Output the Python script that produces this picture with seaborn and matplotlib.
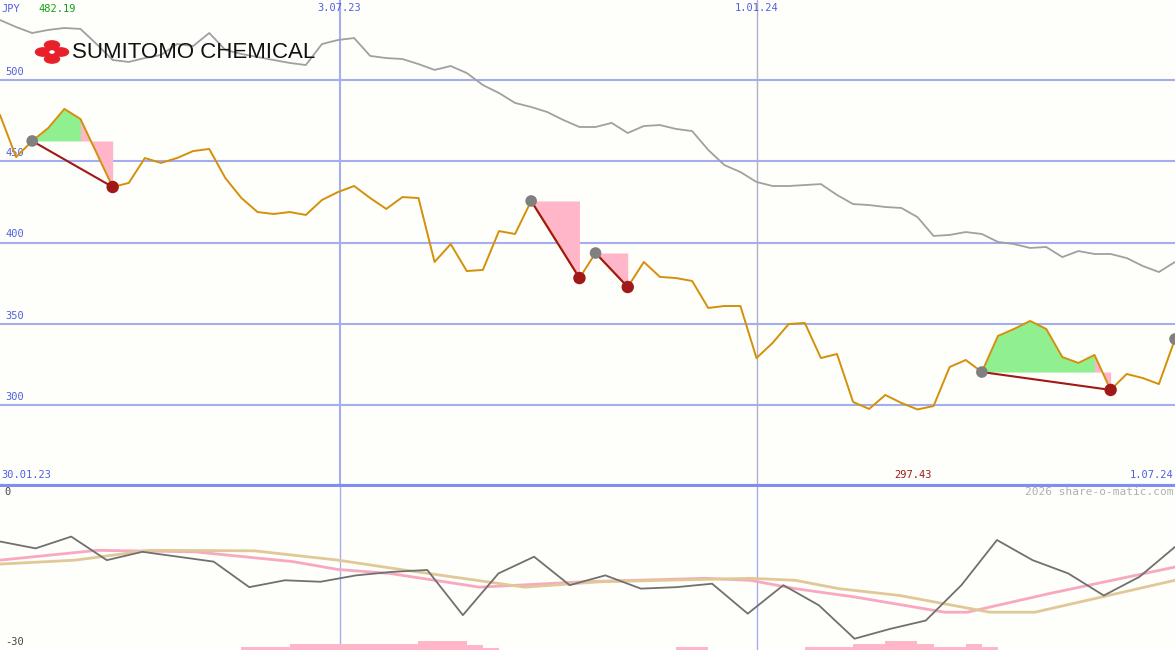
import matplotlib
matplotlib.use("Agg")
import matplotlib.pyplot as plt
import seaborn as sns
import numpy as np
import pandas as pd
from matplotlib.patches import Circle

sns.set_theme(style="white")
plt.rcParams['font.family'] = ['DejaVu Sans Mono', 'DejaVu Sans']

price = [478.5,452.6,462.5,470.5,482.2,476.0,455.1,434.2,436.7,452.0,449.0,452.0,456.3,457.6,439.7,427.4,418.8,417.6,418.8,417.0,
         426.2,431.1,434.8,427.4,420.7,428.0,427.4,388.1,399.1,382.5,383.2,407.1,405.3,425.6,410.2,394.2,378.2,393.6,383.2,372.7,
         388.1,378.9,378.2,376.4,359.8,361.0,361.0,329.0,338.3,349.9,350.6,329.0,331.5,302.0,297.7,306.3,301.4,297.4,299.5,323.5,
         327.8,320.4,342.6,346.9,351.8,346.9,329.6,326.0,330.9,309.4,319.2,316.7,313.0,340.7]
bench = [536.9,532.6,528.9,530.8,532.0,531.4,522.1,512.3,511.1,513.5,515.4,522.1,520.9,528.9,518.5,516.0,514.1,512.3,510.5,509.2,
         522.1,524.6,525.8,514.8,513.5,512.9,509.8,506.2,508.6,504.3,496.9,492.0,485.9,483.4,480.3,475.4,471.1,471.1,473.6,467.4,
         471.7,472.3,469.9,468.6,457.0,447.7,443.4,437.3,434.8,434.8,435.4,436.0,429.3,423.7,423.1,421.9,421.3,415.7,404.1,404.7,
         406.5,405.3,400.4,399.1,396.7,397.3,391.1,394.8,393.0,393.0,390.5,385.6,381.9,388.1]
osc = [-9.5,-10.9,-8.5,-13.3,-11.6,-12.6,-13.6,-18.8,-17.4,-17.7,-16.4,-15.7,-15.3,-24.5,-16.0,-12.6,-18.4,
       -16.4,-19.1,-18.8,-18.1,-24.2,-18.4,-22.5,-29.3,-27.3,-25.6,-18.4,-9.2,-13.3,-16.0,-20.5,-16.7,-10.6]
ma1_x = [0,6.05,12.1,18.2,21.0,24.2,29.8,36.3,43.8,46.6,49.4,53.1,58.7,60.1,65.2,73]
ma1 = [-13.3,-11.3,-11.6,-13.6,-15.2,-16.0,-18.8,-17.7,-17.0,-17.4,-19.1,-20.8,-23.9,-23.9,-20.1,-14.7]
ma2_x = [0,4.66,9.31,15.8,21.0,25.1,32.6,37.3,46.6,49.4,52.1,55.9,61.5,64.3,73]
ma2 = [-14.1,-13.3,-11.3,-11.4,-13.3,-15.3,-18.8,-17.7,-17.0,-17.4,-19.1,-20.5,-23.9,-23.9,-17.4]
vol_weeks = [15,16,17,18,19,20,21,22,23,24,25,26,27,28,29,30,42,43,50,51,52,53,54,55,56,57,58,59,60,61]
vol_vals = [0.6,0.6,0.6,1.2,1.2,1.2,1.2,1.2,1.2,1.2,1.2,1.9,1.9,1.9,1.0,0.5,0.6,0.6,0.6,0.6,0.6,1.2,1.2,1.9,1.9,1.2,0.6,0.6,1.2,0.6]
signals = [(2,7,5),(33,36,33),(37,39,37),(61,69,68)]
extra_dot = 73
yticks = [300,350,400,450,500]
date_ticks = {21.1: "3.07.23", 47: "1.01.24"}
hi_label, lo_label = "482.19", "297.43"

BG = '#fefefa'
BLUE = '#a3adf0'
fig = plt.figure(figsize=(11.75, 6.5), dpi=100, facecolor=BG)
ax = fig.add_axes([0, 163/650, 1, 487/650], facecolor=BG)
bx = fig.add_axes([0, 0, 1, 163/650], facecolor=BG)
x = np.arange(len(price))
ax.set_xlim(0, 73); bx.set_xlim(0, 73)
ax.set_ylim(249.7, 549.2)
bx.set_ylim(-31.6, 1.6)

for v in yticks:
    ax.axhline(v, color=BLUE, lw=1.5, zorder=1)
    ax.text(0.35, v + 2, str(v), color='#5060e0', fontsize=7.5, va='bottom')
ax.axvline(21.1, color=BLUE, lw=1.5, zorder=1)
ax.axvline(47, color='#b0b0c8', lw=1, zorder=1)
bx.axvline(21.1, color=BLUE, lw=1, zorder=1)
bx.axvline(47, color=BLUE, lw=1, zorder=1)
ax.axhline(249.7 + 0.8, color='#7f8ef0', lw=3, zorder=5)

sns.lineplot(x=x, y=bench, ax=ax, color='#a0a0a0', lw=1.3, zorder=2)
sns.lineplot(x=x, y=price, ax=ax, color='#d4900a', lw=1.4, zorder=4)

p = np.array(price)
for pk, tr, ge in signals:
    lvl = p[pk]
    if ge > pk:
        xs = x[pk:ge+1]
        ax.fill_between(xs, lvl, p[pk:ge+1], where=p[pk:ge+1] >= lvl, color='#90f090', zorder=3, interpolate=True, lw=0)
    xs = x[ge:tr+1]
    ax.fill_between(xs, lvl, p[ge:tr+1], color='#ffb6c8', zorder=3, lw=0)
    ax.plot([pk, tr], [lvl, p[tr]], color='#a01818', lw=1.5, zorder=6)
    ax.scatter([pk], [lvl], s=70, color='#808080', zorder=7, edgecolor='none')
    ax.scatter([tr], [p[tr]], s=80, color='#a01818', zorder=7, edgecolor='none')
ax.scatter([extra_dot], [p[extra_dot]], s=70, color='#808080', zorder=7, edgecolor='none', clip_on=False)

for k, lab in date_ticks.items():
    ax.text(k, 549.2 - 2, lab, color='#5060e0', fontsize=7.5, ha='center', va='top')
ax.text(0.1, 254, "30.01.23", color='#5060e0', fontsize=7.5, va='bottom')
ax.text(72.9, 254, "1.07.24", color='#5060e0', fontsize=7.5, va='bottom', ha='right')
ax.text(56.7, 254, lo_label, color='#a01818', fontsize=7.5, va='bottom', ha='center')
ax.text(0.1, 547, "JPY", color='#5060e0', fontsize=7.5, va='top')
ax.text(2.4, 547, hi_label, color='#10a010', fontsize=7.5, va='top')

# logo
for dx, dy in [(0,0),(-9,0),(9,0),(0,-7),(0,7)]:
    fig.patches.append(Circle(((52+dx)/1175, 1-(52+dy)/650), 7.5/1175, transform=fig.transFigure, color='#e8202a'))
fig.patches.append(Circle((52/1175, 1-52/650), 2/1175, transform=fig.transFigure, color='white'))
fig.text(72/1175, 1-53/650, "SUMITOMO CHEMICAL", family='Liberation Sans', fontsize=16, color='#111111', va='center')

sns.lineplot(x=ma1_x, y=ma1, ax=bx, color='#f8a8c0', lw=2, zorder=2)
sns.lineplot(x=ma2_x, y=ma2, ax=bx, color='#e0c898', lw=2, zorder=2)
sns.lineplot(x=np.linspace(0, 73, len(osc)), y=osc, ax=bx, color='#707070', lw=1.3, zorder=3)
bx.bar(vol_weeks, vol_vals, width=1.0, bottom=-31.6, color='#ffb6c8', zorder=1, align='edge', linewidth=0)
bx.text(0.3, 0.5, "0", fontsize=7.5, color='#444444', va='center')
bx.text(0.3, -30, "-30", fontsize=7.5, color='#444444', va='center')
bx.text(72.9, 0.5, "2026 share-o-matic.com", fontsize=8, color='#b0b0b0', va='center', ha='right')

for a in (ax, bx):
    a.set_xticks([]); a.set_yticks([])
    a.set_xlabel(''); a.set_ylabel('')
    for s in a.spines.values():
        s.set_visible(False)
fig.savefig("out.png", dpi=100, facecolor=BG)
